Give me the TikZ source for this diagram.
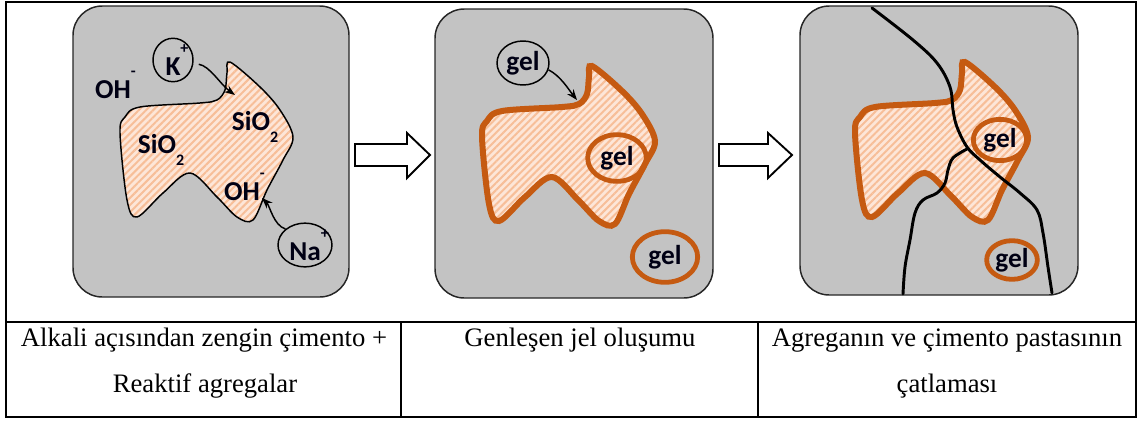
\documentclass[tikz,border=0pt]{standalone}
\usepackage{fontspec}
\setmainfont{Liberation Serif}
\newfontfamily\calibri{Carlito}
\usetikzlibrary{shapes.geometric,arrows.meta,patterns.meta}

\definecolor{gri}{HTML}{C3C3C3}
\definecolor{turuncu}{HTML}{C55A11}
\definecolor{seftali}{HTML}{FDE6D8}
\definecolor{serit}{HTML}{F7BE98}

\newcommand{\ust}[1]{\rlap{\raisebox{0.8em}{\fontsize{12}{12}\selectfont #1}}}
\newcommand{\altindis}[1]{\raisebox{-0.45em}{\fontsize{12}{12}\selectfont #1}}
\newcommand{\tane}{plot [smooth cycle, tension=0.55] coordinates {
    (230,62) (260,87) (280,110) (293,137) (283,160) (267,190) (253,220)
    (237,217) (217,197) (190,173) (163,193) (137,217) (127,200) (120,133)
    (125,117) (140,107) (200,103) (217,100) (225,90) (227,73)}}

\begin{document}
\begin{tikzpicture}
    [x=0.75pt, y=-0.75pt,
     panel/.style={draw=black!85, line width=1.1pt, fill=gri, rounded corners=22pt},
     tane/.style={
         preaction={fill=seftali},
         preaction={pattern={Lines[angle=45,distance=3.8pt,line width=1.5pt]}, pattern color=serit}
       },
     etiket/.style={font=\calibri\bfseries\fontsize{20.5}{20.5}\selectfont, text=black!92!blue},
     iyon/.style={ellipse, draw, line width=1.1pt, inner sep=0pt, etiket},
     jel/.style={ellipse, draw=turuncu, line width=3.6pt, inner sep=0pt, etiket},
     yay/.style={line width=1.1pt, -{Stealth[length=8pt,width=6pt]}},
     blok/.style={draw, line width=1.4pt, fill=white, line join=miter},
     catlak/.style={line width=2.2pt, line cap=round},
     hucre/.style={font=\fontsize{20}{24}\selectfont, anchor=base}
    ]
    \useasboundingbox (0,0) rectangle (1139,421);

    \draw[line width=1.5pt] (6,2) rectangle (1136,417);
    \draw[line width=1.5pt] (6,322) -- (1136,322) (401,322) -- (401,417) (758,322) -- (758,417);

    \draw[panel] (73,6) rectangle (349,297);
    \draw[panel] (435,9) rectangle (713,298);
    \draw[panel] (800,6) rectangle (1078,295);

    \draw[tane, line width=1.1pt] \tane;
    \begin{scope}[shift={(362,4)}]
      \draw[tane, draw=turuncu, line width=4.5pt] \tane;
    \end{scope}
    \begin{scope}[shift={(735,0)}]
      \draw[tane, draw=turuncu, line width=4.5pt] \tane;
    \end{scope}

    \node[etiket] (oh1) at (113,85) {OH\ust{-}};
    \node[etiket] (sio1) at (161,150) {SiO\altindis{2}};
    \node[etiket] (sio2) at (255,127) {SiO\altindis{2}};
    \node[etiket] (oh2) at (242,187) {OH\ust{-}};
    \node[iyon, minimum width=30pt, minimum height=25.5pt] (kion) at (173,60) {K\ust{+}};
    \node[iyon, minimum width=40.5pt, minimum height=30pt] (naion) at (305,245) {Na\ust{+}};
    \coordinate (kuc) at (235,95);
    \coordinate (nauc) at (262,198);
    \draw[yay, shorten <=4pt] (kion.-10) .. controls +(16,2) and +(-14,-10) .. (kuc);
    \draw[yay] (naion.north west) .. controls +(-12,-4) and +(8,8) .. (nauc);

    \node[iyon, minimum width=39pt, minimum height=33pt] (gelust) at (523,63) {gel};
    \node[jel, minimum width=44pt, minimum height=35pt] (gelic2) at (617,158) {gel};
    \node[jel, minimum width=49pt, minimum height=38pt] (geldis2) at (665,257) {gel};
    \coordinate (geluc) at (577,100);
    \draw[yay] (gelust.-15) .. controls +(12,6) and +(-8,-10) .. (geluc);

    \node[jel, minimum width=40pt, minimum height=31pt] (gelic3) at (1000,140) {gel};
    \node[jel, minimum width=38pt, minimum height=29pt] (geldis3) at (1012,260) {gel};
    \draw[catlak] plot [smooth, tension=0.6] coordinates {(872,8) (913,40) (937,63) (950,87)
      (953,110) (957,127) (967,147) (980,160) (1000,177) (1020,193) (1037,210) (1043,233)
      (1048,267) (1052,293)};
    \draw[catlak] plot [smooth, tension=0.6] coordinates {(967,149) (953,158) (948,170)
      (945,183) (937,193) (923,200) (915,213) (910,240) (905,267) (903,294)};

    \draw[blok] (355,144) -- (407,144) -- (407,133) -- (430,155) -- (407,178) -- (407,166) -- (355,166) -- cycle;
    \draw[blok] (719,144) -- (768,144) -- (768,133) -- (792,155) -- (768,178) -- (768,166) -- (719,166) -- cycle;

    \node[hucre] (h1a) at (204,346) {Alkali açısından zengin çimento +};
    \node[hucre] (h1b) at (205,392) {Reaktif agregalar};
    \node[hucre] (h2) at (580,346) {Genleşen jel oluşumu};
    \node[hucre] (h3a) at (947,346) {Agreganın ve çimento pastasının};
    \node[hucre] (h3b) at (947,392) {çatlaması};
\end{tikzpicture}
\end{document}
